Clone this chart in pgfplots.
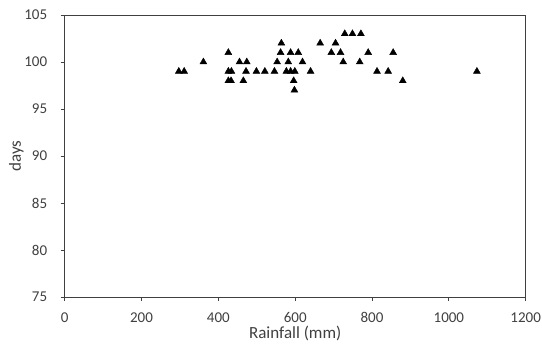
\documentclass[border=0pt]{standalone}
\usepackage{fontspec}
\setmainfont{Carlito}
\usepackage{pgfplots}
\pgfplotsset{compat=1.18}
\definecolor{axisgray}{HTML}{404040}
\begin{document}
\begin{tikzpicture}[x=1pt,y=1pt]
\begin{axis}[
  at={(0,0)}, anchor=south west,
  scale only axis,
  width=461pt, height=282pt,
  xmin=0, xmax=1200, ymin=75, ymax=105,
  xtick={0,200,...,1200}, ytick={75,80,...,105},
  tick align=outside, major tick length=4pt,
  axis line style={axisgray, line width=0.8pt},
  every tick/.style={axisgray, line width=0.8pt},
  tick style={axisgray},
  xtick pos=bottom, ytick pos=left,
  ticklabel style={font=\fontsize{15}{17}\selectfont, text=axisgray},
  /pgf/number format/assume math mode=true,
  /pgf/number format/1000 sep={},
  xticklabel style={yshift=-8pt},
  yticklabel style={xshift=-10pt},
  xlabel={Rainfall (mm)}, ylabel={days},
  label style={font=\fontsize{17}{19}\selectfont, text=axisgray},
  xlabel style={yshift=4pt},
  ylabel style={yshift=-6pt},
]
\addplot[only marks, mark=triangle*, mark size=4pt, mark options={fill=black, draw=black}] coordinates {
(297,99) (311,99) (361,100) (426,101) (426,99) (434,99) (426,98) (433,98)
(455,100) (474,100) (472,99) (465,98) (499,99) (521,99) (546,99) (553,100)
(564,102) (562,101) (588,101) (608,101) (582,100) (577,99) (588,99) (599,99)
(596,98) (598,97) (619,100) (640,99) (665,102) (694,101) (705,102) (718,101)
(725,100) (729,103) (749,103) (771,103) (768,100) (790,101) (813,99) (842,99)
(855,101) (880,98) (1073,99)
};
\end{axis}
\pgfresetboundingbox
\path[use as bounding box] (-64.7,-55) rectangle (477.3,297);
\end{tikzpicture}
\end{document}
